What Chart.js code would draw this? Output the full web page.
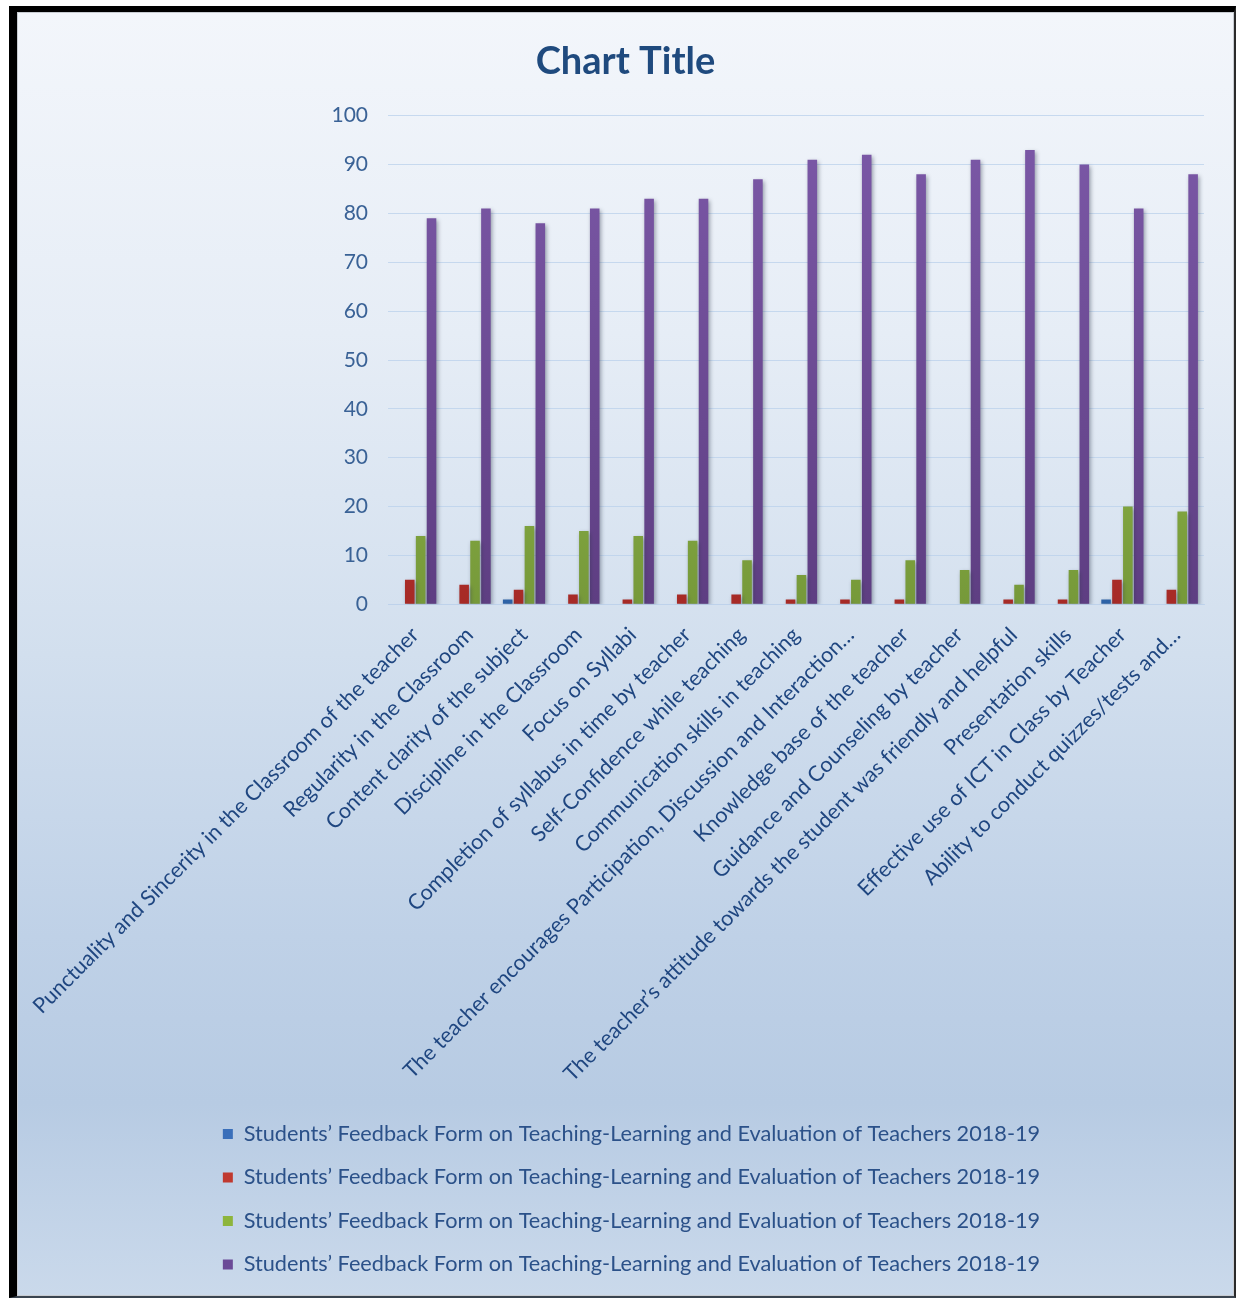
<!DOCTYPE html>
<html>
<head>
<meta charset="utf-8">
<script src="https://cdn.jsdelivr.net/npm/chart.js@4.4.1/dist/chart.umd.min.js"></script>
<style>
  html, body { margin: 0; padding: 0; background: #ffffff; }
  #frame {
    position: absolute; left: 9px; top: 6px;
    width: 1217px; height: 1284px;
    border-left: 8px solid #000; border-top: 6px solid #000;
    border-right: 2px solid #2a2a2a; border-bottom: 2px solid #3a4450;
  }
  #inner {
    position: absolute; left: 0; top: 0; width: 1215px; height: 1282px;
    border: 1px solid #c8ccd2;
    background: linear-gradient(to bottom, #f3f6fb 0%, #e6edf6 25%, #d2dfee 50%, #bfd1e7 72%, #b7cbe3 85%, #cad9eb 100%);
  }
  canvas { position: absolute; left: 0; top: 0; }
</style>
</head>
<body>
<div id="frame"><div id="inner"><canvas id="c" width="1215" height="1282"></canvas></div></div>
<script>
const categories = [
  "Punctuality and Sincerity in the Classroom of the teacher",
  "Regularity in the Classroom",
  "Content clarity of the subject",
  "Discipline in the Classroom",
  "Focus on Syllabi",
  "Completion of syllabus in time by teacher",
  "Self-Confidence while teaching",
  "Communication skills in teaching",
  "The teacher encourages Participation, Discussion and Interaction…",
  "Knowledge base of the teacher",
  "Guidance and Counseling by teacher",
  "The teacher’s attitude towards the student was friendly and helpful",
  "Presentation skills",
  "Effective use of ICT in Class by Teacher",
  "Ability to conduct quizzes/tests and…"
];
const seriesName = "Students’ Feedback Form on Teaching-Learning and Evaluation of Teachers 2018-19";
const seriesBlue   = [0, 0, 1, 0, 0, 0, 0, 0, 0, 0, 0, 0, 0, 1, 0];
const seriesRed    = [5, 4, 3, 2, 1, 2, 2, 1, 1, 1, 0, 1, 1, 5, 3];
const seriesGreen  = [14, 13, 16, 15, 14, 13, 9, 6, 5, 9, 7, 4, 7, 20, 19];
const seriesPurple = [79, 81, 78, 81, 83, 83, 87, 91, 92, 88, 91, 93, 90, 81, 88];
const yTicks = [0, 10, 20, 30, 40, 50, 60, 70, 80, 90, 100];

function grad(top, bottom) {
  return function(ctx) {
    const ca = ctx.chart.chartArea;
    if (!ca) return top;
    const g = ctx.chart.ctx.createLinearGradient(0, ca.top, 0, ca.bottom);
    g.addColorStop(0, top);
    g.addColorStop(1, bottom);
    return g;
  };
}

const shadowPlugin = {
  id: 'barShadow',
  beforeDatasetsDraw(chart) {
    const c = chart.ctx;
    c.save();
    c.shadowColor = 'rgba(40,50,70,0.45)';
    c.shadowBlur = 4;
    c.shadowOffsetX = 1.5;
    c.shadowOffsetY = 2;
  },
  afterDatasetsDraw(chart) {
    chart.ctx.restore();
  }
};

const legendShift = {
  id: 'legendShift',
  afterLayout(chart) {
    if (chart.legend) chart.legend.left += 12;
  }
};

const mk = (data, legendColor, top, bottom) => ({
  label: seriesName,
  data: data,
  backgroundColor: grad(top, bottom),
  legendColor: legendColor,
  borderWidth: 0,
  categoryPercentage: 0.8,
  barPercentage: 0.88
});

const chart = new Chart(document.getElementById('c'), {
  type: 'bar',
  data: {
    labels: categories,
    datasets: [
      mk(seriesBlue, '#3a6fba', '#4b87d2', '#2d62a6'),
      mk(seriesRed, '#c0392f', '#d8463f', '#a62a26'),
      mk(seriesGreen, '#8db53c', '#a3cb4e', '#76993a'),
      mk(seriesPurple, '#6b4a97', '#7c59a8', '#5e3e82')
    ]
  },
  options: {
    responsive: false,
    animation: false,
    layout: { padding: { left: 0, right: 0, top: 0, bottom: 9.65 } },
    plugins: {
      title: {
        display: true,
        text: 'Chart Title',
        color: '#1f4a7e',
        font: { family: 'Lato', size: 38, weight: 'bold' },
        padding: { top: 26, bottom: 31.1 }
      },
      legend: {
        display: true,
        position: 'bottom',
        labels: {
          color: '#2b5189',
          font: { family: 'Lato', size: 21.7 },
          boxWidth: 10,
          boxHeight: 10,
          padding: 21.8,
          generateLabels(ch) {
            return ch.data.datasets.map((ds, i) => ({
              text: ds.label,
              fillStyle: ds.legendColor,
              strokeStyle: ds.legendColor,
              lineWidth: 0,
              hidden: false,
              datasetIndex: i,
              fontColor: '#2b5189'
            }));
          }
        }
      },
      tooltip: { enabled: false }
    },
    scales: {
      x: {
        grid: { display: false, drawTicks: false },
        border: { display: true, color: 'rgba(190,210,235,0.9)', width: 1 },
        ticks: {
          autoSkip: false,
          minRotation: 45,
          maxRotation: 45,
          padding: 18,
          color: '#1f4680',
          font: { family: 'Lato', size: 21.5 }
        },
        afterFit(scale) {
          scale.height = 497.05;
          scale.paddingLeft = 0;
          scale.paddingRight = 29;
        }
      },
      y: {
        min: 0,
        max: 100,
        afterBuildTicks(scale) { scale.ticks = yTicks.map(v => ({ value: v })); },
        grid: { color: 'rgba(185,208,235,0.75)', drawTicks: false },
        border: { display: false },
        ticks: {
          padding: 20,
          color: '#3a6296',
          font: { family: 'Lato', size: 21 }
        },
        afterFit(scale) { scale.width = 370; }
      }
    }
  },
  plugins: [shadowPlugin, legendShift]
});
</script>
</body>
</html>
